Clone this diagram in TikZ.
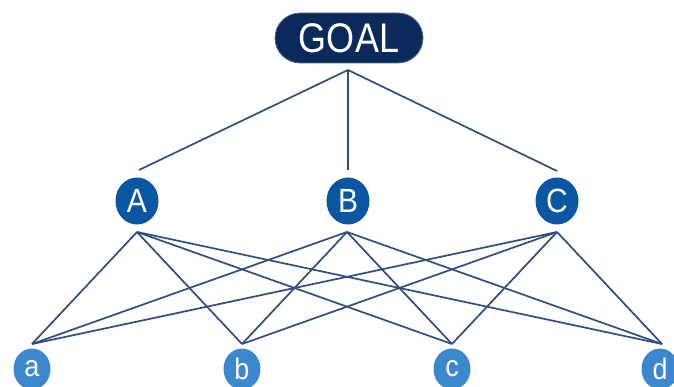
\documentclass[tikz,border=0pt]{standalone}
\usepackage{fontspec}
\setmainfont{Liberation Sans}
\usetikzlibrary{shapes.geometric}
\definecolor{navy}{HTML}{0B2A5C}
\definecolor{midblue}{HTML}{0B56A3}
\definecolor{lightblue}{HTML}{3C88CF}
\definecolor{linecol}{HTML}{2E4E7E}
\tikzset{
  goalbox/.style={rectangle, rounded corners=25pt, fill=navy, draw=navy!70!white, line width=0.8pt,
    minimum width=148pt, minimum height=50pt, inner sep=0pt, text=white, font=\fontsize{36}{36}\selectfont},
  midnode/.style={ellipse, fill=midblue, minimum width=43pt, minimum height=47pt, inner sep=0pt,
    text=white, font=\fontsize{30}{30}\selectfont},
  lownode/.style={ellipse, fill=lightblue, minimum width=37pt, minimum height=41pt, inner sep=0pt,
    text=white, font=\fontsize{27}{27}\selectfont},
  conn/.style={draw=linecol, line width=1.7pt},
}
\begin{document}
\begin{tikzpicture}[x=1pt,y=-1pt]
\useasboundingbox (0,0) rectangle (674,387);
\clip (0,0) rectangle (674,387);
\node[goalbox] (goal) at (349,38) {\scalebox{1}[1.15]{GOAL}};
\node[midnode] (A) at (137,201) {\scalebox{1}[1.12]{A}};
\node[midnode] (B) at (348,201) {\scalebox{1}[1.12]{B}};
\node[midnode] (C) at (557,201) {\scalebox{1}[1.12]{C}};
\node[lownode] (a) at (32,369) {\scalebox{1}[1.1]{a}};
\node[lownode] (b) at (242,369) {\scalebox{1}[1.1]{b}};
\node[lownode] (c) at (452,369) {\scalebox{1}[1.1]{c}};
\node[lownode] (d) at (660,369) {\scalebox{1}[1.1]{d}};
\coordinate (gb) at (348,70);
\coordinate (At) at (139,170);
\coordinate (Bt) at (348,170);
\coordinate (Ct) at (557,171);
\coordinate (Ab) at (137,232);
\coordinate (Bb) at (347,232);
\coordinate (Cb) at (557,232);
\coordinate (at) at (32,344);
\coordinate (bt) at (242,344);
\coordinate (ct) at (452,344);
\coordinate (dt) at (662,344);
\draw[conn] (gb) -- (At);
\draw[conn] (gb) -- (Bt);
\draw[conn] (gb) -- (Ct);
\foreach \u in {Ab,Bb,Cb}{
  \foreach \v in {at,bt,ct,dt}{
    \draw[conn] (\u) -- (\v);
  }
}
\end{tikzpicture}
\end{document}
